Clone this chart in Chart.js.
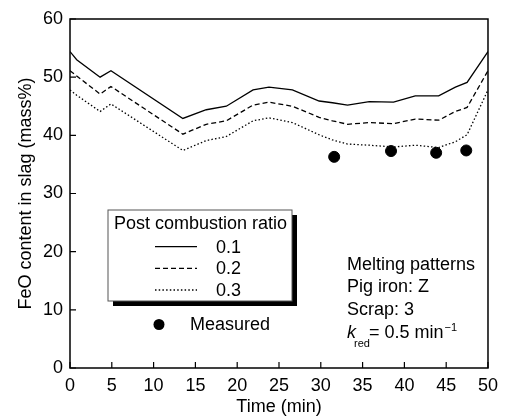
<!DOCTYPE html>
<html>
<head>
<meta charset="utf-8">
<script src="https://cdn.jsdelivr.net/npm/chart.js@4.4.1/dist/chart.umd.min.js"></script>
<style>
    html, body { margin: 0; padding: 0; background: #fff; }
    #wrap { width: 505px; height: 418px; }
</style>
</head>
<body>
<div id="wrap"><canvas id="feoChart" width="505" height="418"></canvas></div>
<script>
// 数据
var times = [0, 0.8, 3.6, 4.9, 13.5, 16.3, 18.7, 21.9, 23.8, 26.6, 29.8, 31.4, 33.2, 35.8, 38.7, 41.3, 44.1, 46.1, 47.5, 50];
var pcr01 = [54.4, 53.0, 50.0, 51.1, 42.9, 44.4, 45.0, 47.8, 48.3, 47.8, 45.9, 45.6, 45.2, 45.8, 45.7, 46.8, 46.8, 48.3, 49.1, 54.4];
var pcr02 = [51.1, 50.2, 47.1, 48.4, 40.2, 41.9, 42.5, 45.2, 45.7, 45.0, 43.1, 42.5, 41.9, 42.2, 42.0, 42.8, 42.6, 44.1, 44.8, 51.1];
var pcr03 = [47.8, 46.9, 44.1, 45.4, 37.4, 39.1, 39.8, 42.5, 43.0, 42.2, 40.1, 39.2, 38.5, 38.3, 38.0, 38.3, 37.9, 38.9, 40.1, 47.8];
var seriesLabels = ['0.1', '0.2', '0.3'];
var measuredTimes = [31.6, 38.4, 43.8, 47.4];
var measuredFeO = [36.3, 37.3, 37.0, 37.4];
var xTicks = [0, 5, 10, 15, 20, 25, 30, 35, 40, 45, 50];
var yTicks = [0, 10, 20, 30, 40, 50, 60];

var FONT = '"Liberation Sans", Arial, sans-serif';

function toPoints(xs, ys) {
    return xs.map(function(x, i) { return { x: x, y: ys[i] }; });
}

// 坐标框、内向刻度、图例和注释
var framePlugin = {
    id: 'frame',
    afterDraw: function(chart) {
        var ctx = chart.ctx;
        var a = chart.chartArea;
        var xs = chart.scales.x, ys = chart.scales.y;
        ctx.save();
        ctx.strokeStyle = '#000';
        ctx.lineWidth = 1.5;
        ctx.strokeRect(a.left, a.top, a.right - a.left, a.bottom - a.top);
        ctx.lineWidth = 1.2;
        ctx.beginPath();
        xTicks.forEach(function(t) {
            var px = xs.getPixelForValue(t);
            ctx.moveTo(px, a.bottom);
            ctx.lineTo(px, a.bottom - 6);
        });
        yTicks.forEach(function(t) {
            var py = ys.getPixelForValue(t);
            ctx.moveTo(a.left, py);
            ctx.lineTo(a.left + 6, py);
        });
        ctx.stroke();

        // 图例框
        var bx = 108, by = 210, bw = 184, bh = 91;
        ctx.fillStyle = '#000';
        ctx.fillRect(bx + 5, by + 5, bw, bh);
        ctx.fillStyle = '#fff';
        ctx.fillRect(bx, by, bw, bh);
        ctx.strokeStyle = '#555';
        ctx.lineWidth = 1;
        ctx.strokeRect(bx, by, bw, bh);

        ctx.fillStyle = '#000';
        ctx.font = '18px ' + FONT;
        ctx.textBaseline = 'middle';
        ctx.textAlign = 'left';
        ctx.fillText('Post combustion ratio', 114, 224);

        var rows = [246.7, 268.3, 290];
        for (var i = 0; i < 3; i++) {
            var ds = chart.data.datasets[i];
            ctx.strokeStyle = '#000';
            ctx.lineWidth = ds.borderWidth;
            ctx.setLineDash(ds.borderDash || []);
            ctx.beginPath();
            ctx.moveTo(155, rows[i]);
            ctx.lineTo(197, rows[i]);
            ctx.stroke();
            ctx.setLineDash([]);
            ctx.fillText(ds.label, 216, rows[i] + 1);
        }

        ctx.beginPath();
        ctx.arc(159, 324.5, 5.5, 0, Math.PI * 2);
        ctx.fill();
        ctx.fillText('Measured', 190, 325);

        // 注释
        ctx.fillText('Melting patterns', 347, 265);
        ctx.fillText('Pig iron: Z', 347, 287.5);
        ctx.fillText('Scrap: 3', 347, 310);
        ctx.font = 'italic 18px ' + FONT;
        ctx.fillText('k', 347, 333);
        ctx.font = '11px ' + FONT;
        ctx.fillText('red', 354, 344);
        ctx.font = '18px ' + FONT;
        var eq = '= 0.5 min';
        ctx.fillText(eq, 369, 333);
        var w = ctx.measureText(eq).width;
        ctx.font = '11px ' + FONT;
        ctx.fillText('\u22121', 369 + w + 1, 328);
        ctx.restore();
    }
};

var lineStyle = { borderColor: '#000', borderWidth: 1.3, pointRadius: 0, tension: 0, showLine: true, fill: false };

new Chart(document.getElementById('feoChart'), {
    type: 'scatter',
    data: {
        datasets: [
            Object.assign({ label: seriesLabels[0], data: toPoints(times, pcr01) }, lineStyle),
            Object.assign({ label: seriesLabels[1], data: toPoints(times, pcr02), borderDash: [5, 3] }, lineStyle),
            Object.assign({ label: seriesLabels[2], data: toPoints(times, pcr03), borderDash: [1.5, 2.2] }, lineStyle),
            {
                label: 'Measured',
                data: toPoints(measuredTimes, measuredFeO),
                showLine: false,
                pointRadius: 5.5,
                pointBackgroundColor: '#000',
                pointBorderColor: '#000'
            }
        ]
    },
    options: {
        responsive: false,
        animation: false,
        layout: { padding: { top: 19, right: 15.5, left: 0, bottom: 0 } },
        plugins: {
            legend: { display: false },
            tooltip: { enabled: false }
        },
        scales: {
            x: {
                type: 'linear',
                min: 0,
                max: 50,
                afterFit: function(scale) { scale.height = 50; },
                afterBuildTicks: function(scale) {
                    scale.ticks = xTicks.map(function(v) { return { value: v }; });
                },
                grid: { display: false, drawTicks: false },
                border: { display: false },
                ticks: { color: '#000', font: { size: 18, family: FONT }, padding: 7, maxRotation: 0 },
                title: {
                    display: true,
                    text: 'Time (min)',
                    color: '#000',
                    font: { size: 18, family: FONT },
                    padding: { top: 0, bottom: 0 }
                }
            },
            y: {
                min: 0,
                max: 60,
                afterFit: function(scale) { scale.width = 70; },
                afterBuildTicks: function(scale) {
                    scale.ticks = yTicks.map(function(v) { return { value: v }; });
                },
                grid: { display: false, drawTicks: false },
                border: { display: false },
                ticks: { color: '#000', font: { size: 18, family: FONT }, padding: 7 },
                title: {
                    display: true,
                    text: 'FeO content in slag (mass%)',
                    color: '#000',
                    font: { size: 18, family: FONT },
                    padding: { top: 15, bottom: 0 }
                }
            }
        }
    },
    plugins: [framePlugin]
});
</script>
</body>
</html>
